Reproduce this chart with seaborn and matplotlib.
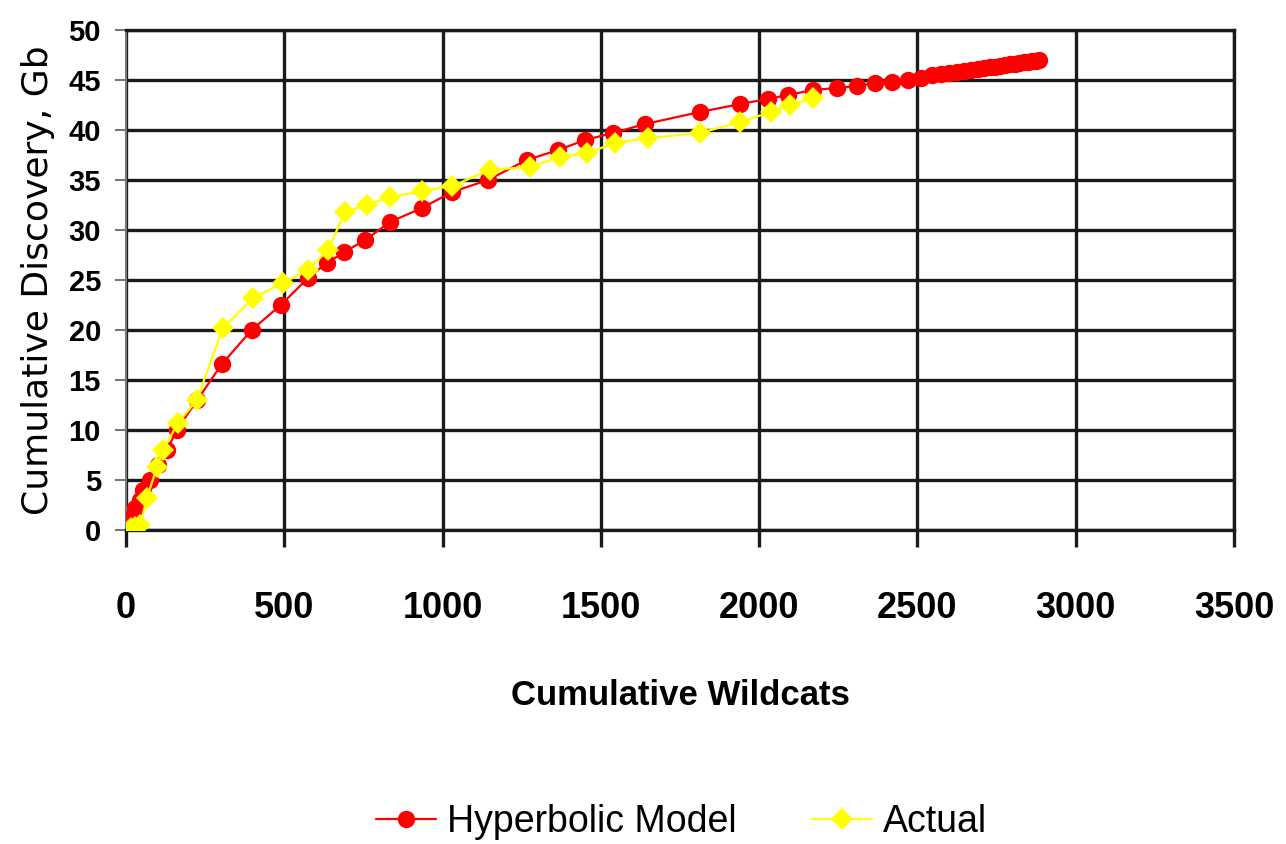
import matplotlib
matplotlib.use("Agg")
import matplotlib.pyplot as plt
import seaborn as sns
import pandas as pd
from matplotlib.lines import Line2D

# ---- data ----
model_x = [0, 20, 30, 45, 55, 75, 100, 130, 160, 225, 303, 397, 489, 575, 634, 690,
           755, 834, 935, 1030, 1143, 1266, 1365, 1450, 1538, 1640, 1813, 1940, 2028,
           2091, 2170, 2245, 2309, 2366, 2420, 2470, 2510, 2545, 2575, 2600, 2625,
           2648, 2670, 2690, 2710, 2728, 2745, 2762, 2778, 2793, 2808, 2822, 2836,
           2850, 2862, 2874, 2885]
model_y = [0.0, 1.2, 2.2, 3.0, 4.0, 5.0, 6.5, 8.0, 10.0, 13.0, 16.6, 20.0, 22.5, 25.2,
           26.7, 27.8, 29.0, 30.8, 32.2, 33.8, 35.0, 37.0, 38.0, 39.0, 39.7, 40.6,
           41.8, 42.6, 43.1, 43.5, 44.0, 44.2, 44.4, 44.7, 44.8, 45.0, 45.2, 45.5,
           45.6, 45.7, 45.8, 45.9, 46.0, 46.1, 46.2, 46.3, 46.3, 46.4, 46.5, 46.6,
           46.6, 46.7, 46.8, 46.8, 46.9, 46.9, 47.0]

actual_x = [15, 30, 45, 66, 98, 117, 164, 224, 306, 402, 495, 575, 638, 692, 760, 834,
            935, 1030, 1150, 1276, 1371, 1456, 1545, 1650, 1813, 1940, 2037, 2097, 2170]
actual_y = [0.2, 0.3, 0.5, 3.2, 6.3, 8.0, 10.7, 13.0, 20.2, 23.2, 24.7, 26.0, 28.0,
            31.8, 32.5, 33.3, 33.9, 34.4, 36.0, 36.3, 37.3, 37.7, 38.7, 39.2, 39.7,
            40.8, 41.8, 42.5, 43.2]

x_ticks = [0, 500, 1000, 1500, 2000, 2500, 3000, 3500]
y_ticks = [0, 5, 10, 15, 20, 25, 30, 35, 40, 45, 50]
series_names = ["Hyperbolic Model", "Actual"]
x_label = "Cumulative Wildcats"
y_label = "Cumulative Discovery, Gb"

sns.set_theme(style="white")
plt.rcParams['font.family'] = ['Liberation Sans', 'DejaVu Sans']
plt.rcParams['text.color'] = 'black'
plt.rcParams['axes.labelcolor'] = 'black'
plt.rcParams['xtick.color'] = 'black'
plt.rcParams['ytick.color'] = 'black'

fig = plt.figure(figsize=(12.86, 8.44), dpi=100)
ax = fig.add_axes([126/1286, 1 - 530/844, (1234-126)/1286, 500/844])

dm = pd.DataFrame({"x": model_x, "y": model_y})
da = pd.DataFrame({"x": actual_x, "y": actual_y})

sns.lineplot(data=dm, x="x", y="y", ax=ax, color="#FF0000", linewidth=1.6,
             marker="o", markersize=12.5, markeredgewidth=0, sort=False,
             estimator=None, zorder=3)
sns.lineplot(data=da, x="x", y="y", ax=ax, color="#FFFF00", linewidth=1.6,
             marker="D", markersize=11.5, markeredgewidth=0, sort=False,
             estimator=None, zorder=4)

ax.set_xlim(0, 3500)
ax.set_ylim(0, 50)
ax.set_xticks(x_ticks)
ax.set_yticks(y_ticks)
ax.grid(True, color="#1a1a1a", linewidth=2.4)
ax.set_axisbelow(True)
for s in ["top", "right", "bottom"]:
    ax.spines[s].set_visible(True)
    ax.spines[s].set_color("#1a1a1a")
    ax.spines[s].set_linewidth(2.4)
ax.spines["left"].set_color("#777777")
ax.spines["left"].set_linewidth(1.5)

ax.tick_params(axis="y", direction="out", length=8, width=1.5, color="#777777",
               pad=10, labelsize=21, left=True, labelcolor="black")
ax.tick_params(axis="x", direction="out", length=12, width=2.4, color="#1a1a1a",
               pad=32, labelsize=26, bottom=True, labelcolor="black")
for lab in ax.get_xticklabels() + ax.get_yticklabels():
    lab.set_fontweight("bold")

ax.set_xlabel(x_label, fontsize=25, fontweight="bold", labelpad=38, color="black")
ax.set_ylabel(y_label, fontsize=26, family=["DejaVu Sans"], labelpad=10,
              color="black")

handles = [
    Line2D([], [], color="#FF0000", linewidth=1.6, marker="o", markersize=12.5,
           markeredgewidth=0),
    Line2D([], [], color="#FFFF00", linewidth=1.6, marker="D", markersize=11.5,
           markeredgewidth=0),
]
fig.legend(handles, series_names, loc="center", bbox_to_anchor=(0.53, 0.026),
           ncol=2, frameon=False, fontsize=27, handlelength=1.6,
           handletextpad=0.3, columnspacing=2.0)

fig.savefig("out.png", dpi=100, facecolor="white")
